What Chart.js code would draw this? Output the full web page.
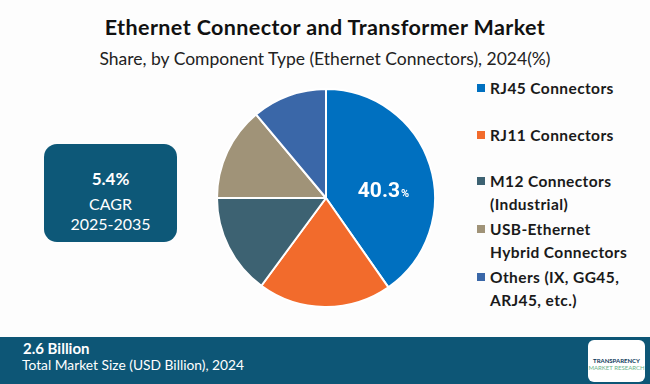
<!DOCTYPE html>
<html>
<head>
<meta charset="utf-8">
<script src="https://cdn.jsdelivr.net/npm/chart.js@4"></script>
<style>
  body { margin: 0; width: 650px; height: 384px; background: #fdfdfd; font-family: Lato, sans-serif; position: relative; overflow: hidden; }
  #title { position: absolute; top: 14px; left: 0; width: 650px; text-align: center; font-weight: bold; font-size: 21.5px; color: #111; letter-spacing: 0.4px; }
  #subtitle { position: absolute; top: 48px; left: 0; width: 650px; text-align: center; font-size: 17.5px; color: #222; }
  #pieWrap { position: absolute; left: 216px; top: 88px; width: 220px; height: 220px; }
  #cagr { position: absolute; left: 44px; top: 144px; width: 133px; height: 98px; background: #0d5878; border-radius: 13px; color: #fff; text-align: center; }
  #cagr .v { font-weight: bold; font-size: 17px; margin-top: 24px; }
  #cagr .l { font-size: 16px; line-height: 20px; margin-top: 5px; }
  #legend { position: absolute; left: 477px; top: 77px; }
  .item { position: absolute; left: 0; white-space: nowrap; font-weight: bold; font-size: 15.5px; line-height: 23px; color: #1a1a1a; letter-spacing: 0.4px; }
  .item i { display: inline-block; width: 8px; height: 8px; margin-right: 5px; vertical-align: 2px; }
  .item span { display: inline-block; vertical-align: top; }
  #footer { position: absolute; left: 0; top: 337px; width: 650px; height: 47px; background: #0d5676; color: #fff; }
  #footer .v { position: absolute; left: 23px; top: 2px; font-weight: bold; font-size: 15px; }
  #footer .l { position: absolute; left: 22px; top: 19px; font-size: 13.8px; }
  #logo { position: absolute; left: 588px; top: 340px; width: 57px; height: 42px; background: #fff; border-radius: 6px; text-align: center; font-size: 6px; }
  #logo b { display: block; margin-top: 17px; color: #0d3a5a; }
  #logo s { display: block; text-decoration: none; color: #6bb38a; }
</style>
</head>
<body>
<div id="title">Ethernet Connector and Transformer Market</div>
<div id="subtitle">Share, by Component Type (Ethernet Connectors), 2024(%)</div>
<div id="cagr"><div class="v">5.4%</div><div class="l">CAGR<br>2025-2035</div></div>
<div id="pieWrap"><canvas id="pie"></canvas></div>
<div id="legend"></div>
<div id="footer"><div class="v">2.6 Billion</div><div class="l">Total Market Size (USD Billion), 2024</div></div>
<div id="logo"><b>TRANSPARENCY</b><s>MARKET RESEARCH</s></div>
<script>
const categories = ["RJ45 Connectors", "RJ11 Connectors", "M12 Connectors (Industrial)", "USB-Ethernet Hybrid Connectors", "Others (IX, GG45, ARJ45, etc.)"];
const legendLines = [["RJ45 Connectors"], ["RJ11 Connectors"], ["M12 Connectors", "(Industrial)"], ["USB-Ethernet", "Hybrid Connectors"], ["Others (IX, GG45,", "ARJ45, etc.)"]];
const shares = [40.3, 19.8, 14.9, 13.9, 11.1];
const colors = ["#0070c0", "#f26b2c", "#3d6272", "#a09378", "#3a67a8"];
const legendTops = [0, 47, 93, 141, 189];

const legend = document.getElementById('legend');
categories.forEach((c, i) => {
    const d = document.createElement('div');
    d.className = 'item';
    d.style.top = legendTops[i] + 'px';
    d.innerHTML = '<i style="background:' + colors[i] + '"></i><span>' + legendLines[i].join('<br>') + '</span>';
    legend.appendChild(d);
});

// label for the largest slice
const sliceLabel = {
    id: 'sliceLabel',
    afterDatasetsDraw(chart) {
        const arc = chart.getDatasetMeta(0).data[0];
        const p = arc.tooltipPosition();
        const ctx = chart.ctx;
        ctx.save();
        ctx.fillStyle = '#fff';
        ctx.textBaseline = 'alphabetic';
        ctx.font = 'bold 21px Roboto';
        const t = shares[0].toFixed(1);
        const w = ctx.measureText(t).width;
        ctx.font = 'bold 11px Roboto';
        const w2 = ctx.measureText('%').width;
        const x0 = p.x + 5 - (w + w2) / 2;
        ctx.font = 'bold 21px Roboto';
        ctx.fillText(t, x0, p.y + 15);
        ctx.font = 'bold 11px Roboto';
        ctx.fillText('%', x0 + w + 1, p.y + 15);
        ctx.restore();
    }
};

new Chart(document.getElementById('pie'), {
    type: 'pie',
    data: {
        labels: categories,
        datasets: [{
            data: shares,
            backgroundColor: colors,
            borderColor: '#ffffff',
            borderWidth: 2
        }]
    },
    options: {
        responsive: true,
        maintainAspectRatio: false,
        animation: false,
        plugins: { legend: { display: false }, tooltip: { enabled: false } }
    },
    plugins: [sliceLabel]
});
</script>
</body>
</html>
